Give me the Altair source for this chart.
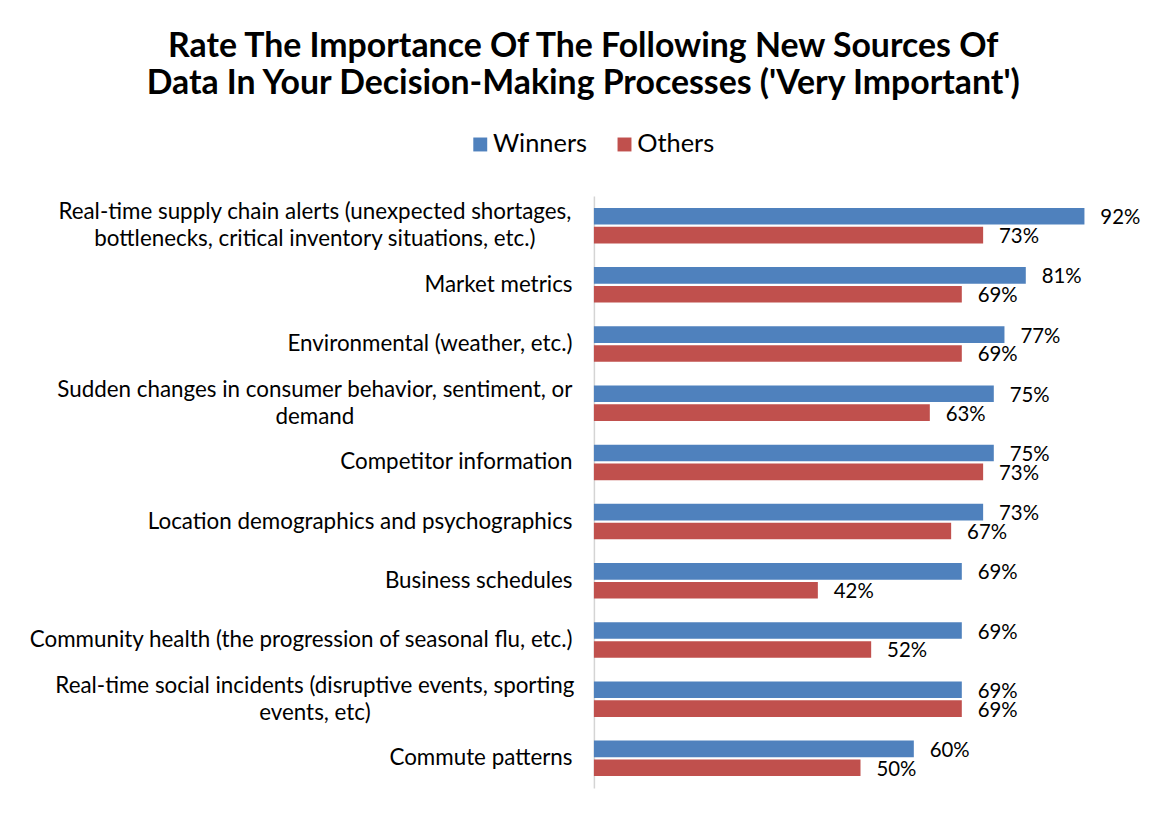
import altair as alt
import pandas as pd

categories = [
    "Real-time supply chain alerts (unexpected shortages,|bottlenecks, critical inventory situations, etc.)",
    "Market metrics",
    "Environmental (weather, etc.)",
    "Sudden changes in consumer behavior, sentiment, or|demand",
    "Competitor information",
    "Location demographics and psychographics",
    "Business schedules",
    "Community health (the progression of seasonal flu, etc.)",
    "Real-time social incidents (disruptive events, sporting|events, etc)",
    "Commute patterns",
]
winners = [92, 81, 77, 75, 75, 73, 69, 69, 69, 60]
others = [73, 69, 69, 63, 73, 67, 42, 52, 69, 50]
series = ["Winners", "Others"]
colors = ["#4F81BD", "#C0504D"]

rows = []
for c, w, o in zip(categories, winners, others):
    rows.append({"category": c, "series": "Winners", "value": w})
    rows.append({"category": c, "series": "Others", "value": o})
df = pd.DataFrame(rows)

FONT = "Lato"
multi = "indexof(datum.value, '|') >= 0"

y_enc = alt.Y(
    "category:N",
    sort=categories,
    title=None,
    scale=alt.Scale(paddingInner=0.4, paddingOuter=0.2),
    axis=alt.Axis(
        labelExpr="split(datum.label, '|')",
        labelFont=FONT,
        labelFontSize=22.5,
        labelColor="#000000",
        labelLimit=800,
        labelLineHeight=27,
        ticks=False,
        domainColor="#D4D4D4",
        domainWidth=1.5,
        labelBaseline="middle",
        labelAlign={"condition": {"test": multi, "value": "center"}, "value": "right"},
        labelPadding={"condition": {"test": multi, "value": 281}, "value": 22},
        labelOffset={"condition": {"test": multi, "value": -13.5}, "value": 0},
    ),
)
yoff = alt.YOffset("series:N", sort=series, scale=alt.Scale(paddingInner=0.12))
x_enc = alt.X("value:Q", scale=alt.Scale(domain=[0, 100]), axis=None)

bars = alt.Chart(df).mark_bar().encode(
    x=x_enc,
    y=y_enc,
    yOffset=yoff,
    color=alt.Color(
        "series:N",
        sort=series,
        scale=alt.Scale(domain=series, range=colors),
        legend=alt.Legend(
            title=None,
            orient="none",
            legendX=-127,
            legendY=-65,
            direction="horizontal",
            symbolType="square",
            symbolSize=196,
            symbolStrokeWidth=0,
            labelFont=FONT,
            labelFontSize=25.5,
            labelColor="#000000",
            columnPadding=24,
            labelOffset=0,
        ),
    ),
)

labels = alt.Chart(df).transform_calculate(
    lbl="datum.value + '%'"
).mark_text(
    align="left", baseline="middle", dx=16, dy=2, font=FONT, fontSize=20.5, color="#000000"
).encode(
    x=x_enc,
    y=y_enc,
    yOffset=yoff,
    text="lbl:N",
)

chart = alt.layer(bars, labels).properties(
    width=536,
    height=595,
    padding={"left": 20, "top": 20, "right": 5, "bottom": 5},
    title=alt.Title(
        ["Rate The Importance Of The Following New Sources Of",
         "Data In Your Decision-Making Processes ('Very Important')"],
        font=FONT,
        fontSize=34,
        fontWeight="bold",
        color="#000000",
        anchor="middle",
        frame="bounds",
        lineHeight=37,
        offset=31,
        dx=-1,
    ),
).configure(background="white").configure_view(stroke=None)

chart.save("out.html", embed_options={"renderer": "svg", "actions": False})
